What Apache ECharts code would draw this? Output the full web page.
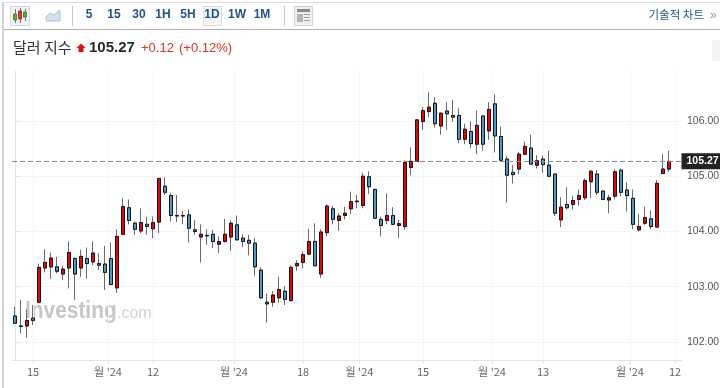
<!DOCTYPE html>
<html>
<head>
<meta charset="utf-8">
<style>
  html, body { margin: 0; padding: 0; background: #fff; }
  #chart { width: 720px; height: 388px; }
</style>
<script src="https://cdn.jsdelivr.net/npm/echarts@6/dist/echarts.min.js"></script>
</head>
<body>
<div id="chart"></div>
<script>
const opens = [102.47,102.29,102.29,102.43,102.72,103.34,103.36,103.36,103.23,103.34,
  103.51,103.34,103.51,103.45,103.42,103.41,103.51,102.98,103.95,104.43,
  104.15,104.01,104.13,104.05,104.17,104.82,104.65,104.29,104.29,104.30,
  104.03,103.90,103.93,103.95,103.77,103.82,103.90,104.12,103.88,103.84,
  103.79,103.30,102.72,102.72,102.80,102.92,102.75,103.38,103.44,103.59,
  103.82,103.23,103.98,104.41,104.20,104.29,104.41,104.55,104.47,104.99,
  104.76,104.22,104.20,104.29,104.11,104.09,105.16,105.27,105.99,106.17,
  106.32,105.91,106.18,106.10,106.10,105.67,105.81,105.58,106.09,105.82,
  106.31,105.72,105.31,105.07,105.13,105.40,105.51,105.20,105.31,105.20,
  105.04,104.21,104.49,104.49,104.58,104.61,104.90,105.04,104.73,104.57,
  104.64,105.11,104.75,104.60,104.03,104.15,104.23,104.08,105.05,105.13];
const closes = [102.34,102.28,102.39,102.39,103.35,103.44,103.52,103.28,103.32,103.62,
  103.23,103.55,103.42,103.61,103.39,103.26,103.04,103.91,104.45,104.20,
  104.04,104.16,104.09,104.16,104.96,104.71,104.29,104.28,104.28,104.06,
  104.00,103.95,103.92,103.82,103.82,103.95,104.15,103.85,103.82,103.79,
  103.36,102.80,102.69,102.85,102.95,102.77,103.35,103.42,103.58,103.82,
  103.38,103.99,104.46,104.22,104.28,104.33,104.54,104.54,105.00,104.81,
  104.24,104.11,104.29,104.13,104.14,105.25,105.27,106.02,106.19,106.25,
  105.95,106.14,106.13,106.07,105.67,105.85,105.59,105.92,105.58,106.21,
  105.73,105.29,105.02,105.03,105.40,105.54,105.22,105.28,105.21,105.00,
  104.33,104.44,104.43,104.56,104.65,104.92,105.09,104.71,104.58,104.61,
  105.08,104.71,104.65,104.13,104.09,104.25,104.09,104.87,105.13,105.27];
const lows = [102.33,102.16,102.08,102.31,102.72,103.26,103.14,103.24,103.12,102.97,
  102.76,103.18,103.15,103.39,103.30,102.94,103.03,102.89,103.95,104.13,
  103.94,103.97,103.94,103.88,103.97,104.66,104.18,104.17,104.13,103.80,
  103.94,103.44,103.76,103.70,103.61,103.80,103.65,103.83,103.72,103.57,
  103.19,102.78,102.35,102.64,102.71,102.67,102.73,103.29,103.33,103.57,
  103.38,103.16,103.91,104.13,104.01,104.22,104.32,104.42,104.42,104.68,
  104.24,103.91,104.13,104.11,103.88,104.03,105.02,105.26,105.84,106.07,
  105.88,105.75,105.84,105.99,105.60,105.58,105.51,105.40,105.46,105.66,
  105.43,105.28,104.52,104.87,105.04,105.38,105.22,105.14,105.06,104.98,
  104.28,104.08,104.40,104.40,104.47,104.57,104.61,104.66,104.57,104.33,
  104.58,104.64,104.36,104.04,104.00,104.12,104.04,104.08,105.04,105.08];
const highs = [102.64,102.76,102.59,102.67,103.42,103.68,103.62,103.54,103.38,103.82,
  103.53,103.67,103.71,103.82,103.61,103.74,103.80,104.04,104.60,104.58,
  104.18,104.42,104.26,104.27,104.96,104.98,104.70,104.66,104.37,104.40,
  104.21,104.13,104.04,104.03,103.91,104.23,104.20,104.29,103.95,103.94,
  103.88,103.35,102.88,102.92,103.18,103.01,103.39,103.48,103.64,104.05,
  104.15,104.04,104.49,104.46,104.33,104.45,104.72,104.66,105.06,105.09,
  104.78,104.27,104.69,104.44,104.21,105.29,105.52,106.03,106.25,106.52,
  106.43,106.16,106.34,106.38,106.23,105.95,105.99,106.19,106.10,106.34,
  106.48,105.90,105.37,105.20,105.44,105.63,105.75,105.38,105.37,105.46,
  105.05,104.62,104.80,104.64,104.76,104.96,105.11,105.11,104.75,104.66,
  105.13,105.14,104.89,104.76,104.32,104.45,104.38,104.93,105.40,105.46];

const xTickPositions = [3, 15.5, 23, 36.5, 48, 57.4, 68, 79.5, 88, 102.5, 110];
const xTickLabels = ["15", "월 '24", "12", "월 '24", "18", "월 '24", "15", "월 '24", "13", "월 '24", "12"];
const yTicks = [102, 103, 104, 105, 106];
const lastPrice = 105.27;
const intervals = ["5", "15", "30", "1H", "5H", "1D", "1W", "1M"];

const wickData = opens.map((o, i) => [i, o, closes[i], lows[i], highs[i]]);
const bodyData = opens.map((o, i) => [i, o, closes[i], Math.min(o, closes[i]), Math.max(o, closes[i])]);

const kr = '"Noto Sans CJK KR", sans-serif';
const latin = '"Liberation Sans", Arial, sans-serif';
const navy = "#1f5291";

function txt(x, y, text, fill, font, align, z) {
  return { type: "text", x: x, y: y, z: z === undefined ? 10 : z, silent: true,
    style: { text: text, fill: fill, font: font, align: align || "left", verticalAlign: "middle" } };
}
function box(x, y, w, h, fill, stroke) {
  return { type: "rect", z: 9, silent: true, shape: { x: x, y: y, width: w, height: h },
    style: { fill: fill, stroke: stroke || null, lineWidth: 1 } };
}

const intervalX = [89, 114, 139, 163, 188, 212, 237, 262];
const toolbar = [
  // frame
  box(2, 2, 718, 1, "#dcdcdc"),
  box(2, 29, 718, 1, "#b0b0b0"),
  box(2, 2, 2, 386, "#d4d4d4"),
  // candle icon
  box(10.5, 6.5, 19, 19, "#f3f3f3", "#d8d8d8"),
  box(15, 9, 1, 14, "#777"), box(13.5, 14, 3, 6, "#58a83c", "#4a8a34"),
  box(20, 8, 1, 15, "#777"), box(18.5, 11, 3, 8, "#e53030", "#b83030"),
  box(25, 9, 1, 12, "#777"), box(23.5, 12, 3, 5, "#58a83c", "#4a8a34"),
  // area icon
  { type: "polygon", z: 9, silent: true,
    shape: { points: [[46, 17], [50, 13], [54, 15], [60, 10], [60, 21], [46, 21]] },
    style: { fill: "#d4e1f0", stroke: "#a9c3de", lineWidth: 1 } },
  box(72, 6, 1, 20, "#c4c4c4"),
  box(203.5, 6.5, 18, 19, "#f5f5f5", "#dddddd"),
  box(284, 6, 1, 20, "#c4c4c4"),
  // layout icon
  box(294.5, 6.5, 18, 19, "#eeeeee", "#d0d0d0"),
  box(297, 9, 13, 3, "#8a8a8a"),
  box(297, 14, 6, 8, "#b5b5b5"),
  box(304, 14, 6, 1, "#a0a0a0"), box(304, 17, 6, 1, "#a0a0a0"), box(304, 20, 6, 1, "#a0a0a0"),
  txt(704, 15, "기술적 차트", navy, "11.5px " + kr, "right"),
  txt(710, 15.5, "»", "#7d9cc4", "12px " + latin, "left"),
  box(712, 40, 8, 21, "#f3f3f3"),
  // quote line
  txt(13, 47, "달러 지수", "#333", "15px " + kr),
  { type: "polygon", z: 10, silent: true,
    shape: { points: [[81, 43.5], [85.5, 48], [83.5, 48], [83.5, 52], [78.5, 52], [78.5, 48], [76.5, 48]] },
    style: { fill: "#e01010" } },
  txt(89, 48, "105.27", "#2a2a2a", "bold 15px " + latin),
  txt(141, 48, "+0.12", "#e0301e", "13px " + latin),
  txt(179, 48, "(+0.12%)", "#e0301e", "13px " + latin),
  // watermark sits under the candles
  Object.assign(txt(25, 311, "Investing", "#c6c6c6", "bold 24px " + latin, "left", 0), { scaleX: 0.87 }),
  txt(117, 314, ".com", "#d2d2d2", "16px " + latin, "left", 0)
];
intervals.forEach((label, i) => {
  toolbar.push(txt(intervalX[i], 15, label, navy, "bold 12px " + latin, "center"));
});

const chart = echarts.init(document.getElementById("chart"), null, { renderer: "canvas" });
chart.setOption({
  animation: false,
  grid: { left: 12, right: 38.5, top: 71, bottom: 28, containLabel: false, outerBoundsMode: "none" },
  xAxis: {
    type: "value",
    min: -0.5,
    max: 111.08,
    axisLine: { lineStyle: { color: "#dfe3ea" } },
    axisTick: { customValues: xTickPositions, length: 4, lineStyle: { color: "#dfe3ea" } },
    axisLabel: {
      customValues: xTickPositions,
      color: "#666",
      fontSize: 11,
      fontFamily: kr,
      margin: 6,
      formatter: (v) => xTickLabels[xTickPositions.indexOf(v)]
    },
    splitLine: { show: true, lineStyle: { color: "#f3f5f8" } }
  },
  yAxis: {
    type: "value",
    position: "right",
    min: 101.674,
    max: 106.905,
    axisLine: { show: true, lineStyle: { color: "#dfe3ea" } },
    axisTick: { show: true, customValues: yTicks, length: 4, lineStyle: { color: "#dfe3ea" } },
    axisLabel: {
      customValues: yTicks,
      color: "#555",
      fontSize: 10.5,
      fontFamily: latin,
      margin: 5.5,
      formatter: (v) => v.toFixed(2)
    },
    splitLine: { show: true, lineStyle: { color: "#f3f5f8" } }
  },
  graphic: toolbar,
  series: [
    {
      name: "wicks",
      type: "candlestick",
      barWidth: 4,
      data: wickData,
      encode: { x: 0, y: [1, 2, 3, 4] },
      itemStyle: { color: "#f00000", color0: "#4a98d0", borderColor: "#6b6b6b", borderColor0: "#6b6b6b", borderColorDoji: "#6b6b6b", borderWidth: 1 },
      markLine: {
        silent: true,
        symbol: "none",
        animation: false,
        data: [{ yAxis: lastPrice }],
        lineStyle: { color: "#8c8c8c", type: [5, 3], width: 1 },
        label: {
          position: "end",
          distance: 0,
          formatter: () => lastPrice.toFixed(2),
          color: "#fff",
          backgroundColor: "#222",
          fontFamily: latin,
          fontSize: 10.5,
          fontWeight: "bold",
          padding: [3, 2, 2, 5]
        }
      }
    },
    {
      name: "bodies",
      type: "candlestick",
      barWidth: 4,
      data: bodyData,
      encode: { x: 0, y: [1, 2, 3, 4] },
      itemStyle: { color: "#f00000", color0: "#4a98d0", borderColor: "#151515", borderColor0: "#151515", borderColorDoji: "#777", borderWidth: 1 }
    }
  ]
});
</script>
</body>
</html>
